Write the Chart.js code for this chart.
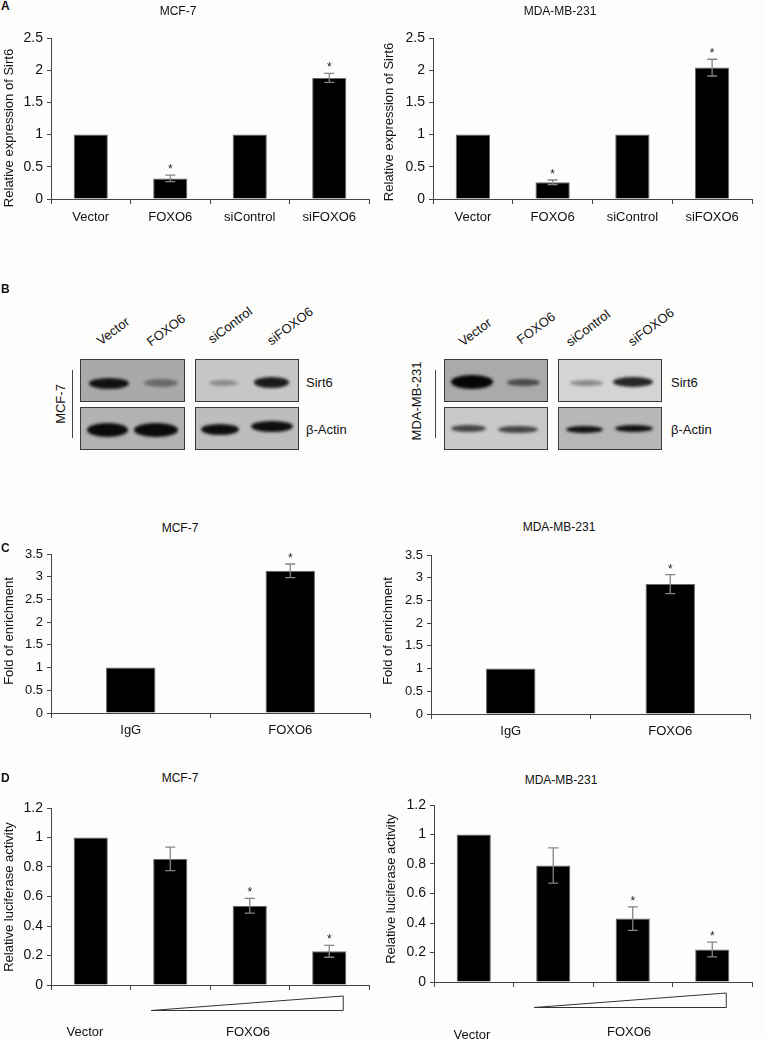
<!DOCTYPE html>
<html><head><meta charset="utf-8">
<script src="https://cdn.jsdelivr.net/npm/chart.js@4.4.0/dist/chart.umd.min.js"></script>
<style>
html,body{margin:0;padding:0;background:#fdfdfc;}
body{width:764px;height:1039px;position:relative;overflow:hidden;font-family:"Liberation Sans",Arial,sans-serif;color:#111;}
canvas{position:absolute;}
.t{position:absolute;transform:translate(-50%,-50%);white-space:nowrap;font-size:12px;}
.yt{position:absolute;transform:translate(-50%,-50%) rotate(-90deg);white-space:nowrap;font-size:13px;}
.lt{position:absolute;font-weight:bold;font-size:12px;}
.rl{position:absolute;transform:translate(-50%,-50%) rotate(-37deg);white-space:nowrap;font-size:13px;}
.box{position:absolute;border:1px solid #3a3a3a;box-sizing:border-box;overflow:hidden;}
.band{position:absolute;border-radius:50%;filter:blur(1.4px);}
.vl{position:absolute;width:1px;background:#444;}
.lab{position:absolute;transform:translate(0,-50%);white-space:nowrap;font-size:13px;}
</style></head>
<body>
<script>
// ---------- DATA ----------
const catsA = ['Vector', 'FOXO6', 'siControl', 'siFOXO6'];
const sirt6MCF7 = [1, 0.32, 1, 1.88];
const sirt6MCF7Err = [0, 0.05, 0, 0.07];
const sirt6MCF7Sig = [false, true, false, true];
const sirt6MDA = [1, 0.26, 1, 2.04];
const sirt6MDAErr = [0, 0.035, 0, 0.13];
const sirt6MDASig = [false, true, false, true];

const catsC = ['IgG', 'FOXO6'];
const chipMCF7 = [1, 3.13];
const chipMCF7Err = [0, 0.15];
const chipMCF7Sig = [false, true];
const chipMDA = [1, 2.86];
const chipMDAErr = [0, 0.21];
const chipMDASig = [false, true];

const catsD = ['Vector', 'FOXO6 (low)', 'FOXO6 (mid)', 'FOXO6 (high)'];
const lucMCF7 = [1, 0.855, 0.537, 0.228];
const lucMCF7Err = [0, 0.08, 0.05, 0.04];
const lucMCF7Sig = [false, false, true, true];
const lucMDA = [1, 0.79, 0.43, 0.22];
const lucMDAErr = [0, 0.12, 0.08, 0.05];
const lucMDASig = [false, false, true, true];

const ticksA = [0, 0.5, 1, 1.5, 2, 2.5];
const ticksC = [0, 0.5, 1, 1.5, 2, 2.5, 3, 3.5];
const ticksD = [0, 0.2, 0.4, 0.6, 0.8, 1, 1.2];

const blotLanes = ['Vector', 'FOXO6', 'siControl', 'siFOXO6'];
// ---------- END DATA ----------

function el(cls, txt, style) {
  const d = document.createElement('div');
  d.className = cls;
  if (txt !== null) d.textContent = txt;
  Object.assign(d.style, style);
  document.body.appendChild(d);
  return d;
}

const errPlugin = {
  id: 'errbars',
  afterDatasetsDraw(chart, args, opts) {
    const ctx = chart.ctx;
    const ys = chart.scales.y;
    const meta = chart.getDatasetMeta(0);
    const vals = chart.data.datasets[0].data;
    ctx.save();
    meta.data.forEach((bar, i) => {
      const v = vals[i], e = opts.err[i];
      let topY = ys.getPixelForValue(v);
      if (e > 0) {
        const y1 = ys.getPixelForValue(v + e), y2 = ys.getPixelForValue(v - e);
        ctx.strokeStyle = '#858585';
        ctx.lineWidth = 1.3;
        ctx.beginPath();
        ctx.moveTo(bar.x, y1); ctx.lineTo(bar.x, y2);
        ctx.moveTo(bar.x - 5, y1); ctx.lineTo(bar.x + 5, y1);
        ctx.moveTo(bar.x - 5, y2); ctx.lineTo(bar.x + 5, y2);
        ctx.stroke();
        topY = y1;
      }
      if (opts.sig[i]) {
        ctx.fillStyle = '#222';
        ctx.font = '12px "Liberation Sans", Arial, sans-serif';
        ctx.textAlign = 'center';
        ctx.textBaseline = 'alphabetic';
        ctx.fillText('*', bar.x, topY - 2);
      }
    });
    ctx.restore();
  }
};

const triPlugin = {
  id: 'tri',
  afterDraw(chart, args, opts) {
    if (!opts.on) return;
    const xs = chart.scales.x;
    const cw = xs.getPixelForValue(1) - xs.getPixelForValue(0);
    const x1 = xs.getPixelForValue(1) - 0.24 * cw;
    const x2 = xs.getPixelForValue(3) + 0.17 * cw;
    const base = chart.chartArea.bottom;
    const ctx = chart.ctx;
    ctx.save();
    ctx.strokeStyle = '#333';
    ctx.lineWidth = 1;
    ctx.beginPath();
    ctx.moveTo(x1, base + 25.5);
    ctx.lineTo(x2 + 0.5, base + 11);
    ctx.lineTo(x2 + 0.5, base + 25.5);
    ctx.closePath();
    ctx.stroke();
    ctx.restore();
  }
};

function makeChart(g) {
  const c = document.createElement('canvas');
  c.width = g.cw; c.height = g.ch;
  c.style.left = g.cx + 'px'; c.style.top = g.cy + 'px';
  c.style.width = g.cw + 'px'; c.style.height = g.ch + 'px';
  document.body.appendChild(c);
  const yW = g.L - g.cx;
  const xH = g.cy + g.ch - g.B;
  new Chart(c.getContext('2d'), {
    type: 'bar',
    data: {
      labels: g.labels,
      datasets: [{
        data: g.values,
        backgroundColor: '#000',
        borderColor: '#6a6a6a',
        borderWidth: 1,
        barPercentage: g.barPct,
        categoryPercentage: 1
      }]
    },
    options: {
      responsive: false,
      animation: false,
      devicePixelRatio: 1,
      layout: { padding: { left: 0, top: g.T - g.cy, right: g.cx + g.cw - g.R, bottom: 0 } },
      plugins: {
        legend: { display: false },
        tooltip: { enabled: false },
        errbars: { err: g.err, sig: g.sig },
        tri: { on: !!g.tri }
      },
      scales: {
        x: {
          grid: { drawOnChartArea: false, drawTicks: true, tickLength: 5, color: '#444', offset: true },
          border: { color: '#444', width: 1 },
          ticks: {
            display: g.showX,
            color: '#111',
            padding: g.xPad,
            maxRotation: 0,
            autoSkip: false,
            font: { family: '"Liberation Sans", Arial, sans-serif', size: 13 }
          },
          afterFit(s) { s.height = xH; }
        },
        y: {
          min: g.ticks[0],
          max: g.ticks[g.ticks.length - 1],
          afterBuildTicks(s) { s.ticks = g.ticks.map(v => ({ value: v })); },
          grid: { drawOnChartArea: false, drawTicks: true, tickLength: 4, color: '#444' },
          border: { color: '#444', width: 1 },
          ticks: {
            color: '#111',
            padding: 4,
            font: { family: '"Liberation Sans", Arial, sans-serif', size: g.yFont },
            callback: v => String(Number(v.toFixed(1)))
          },
          afterFit(s) { s.width = yW; }
        }
      }
    },
    plugins: [errPlugin, triPlugin]
  });
}

// Panel A
makeChart({cx: 0, cy: 15, cw: 382, ch: 225, L: 51, R: 369, T: 38, B: 199,
  labels: catsA, values: sirt6MCF7, err: sirt6MCF7Err, sig: sirt6MCF7Sig,
  ticks: ticksA, barPct: 0.43, showX: true, xPad: 6, yFont: 14});
makeChart({cx: 382, cy: 15, cw: 382, ch: 225, L: 433, R: 752, T: 38, B: 199,
  labels: catsA, values: sirt6MDA, err: sirt6MDAErr, sig: sirt6MDASig,
  ticks: ticksA, barPct: 0.43, showX: true, xPad: 6, yFont: 14});
// Panel C
makeChart({cx: 0, cy: 535, cw: 382, ch: 215, L: 51, R: 370, T: 554, B: 713,
  labels: catsC, values: chipMCF7, err: chipMCF7Err, sig: chipMCF7Sig,
  ticks: ticksC, barPct: 0.31, showX: true, xPad: 5, yFont: 13});
makeChart({cx: 382, cy: 535, cw: 382, ch: 215, L: 431, R: 750, T: 555, B: 714,
  labels: catsC, values: chipMDA, err: chipMDAErr, sig: chipMDASig,
  ticks: ticksC, barPct: 0.31, showX: true, xPad: 5, yFont: 13});
// Panel D
makeChart({cx: 0, cy: 790, cw: 382, ch: 235, L: 51, R: 369, T: 808, B: 985,
  labels: catsD, values: lucMCF7, err: lucMCF7Err, sig: lucMCF7Sig,
  ticks: ticksD, barPct: 0.43, showX: false, xPad: 5, yFont: 14, tri: true});
makeChart({cx: 382, cy: 787, cw: 382, ch: 235, L: 434, R: 752, T: 805, B: 982,
  labels: catsD, values: lucMDA, err: lucMDAErr, sig: lucMDASig,
  ticks: ticksD, barPct: 0.43, showX: false, xPad: 5, yFont: 14, tri: true});

// Titles and letters
el('lt', 'A', {left: '1px', top: '-1px'});
el('lt', 'B', {left: '1px', top: '282px'});
el('lt', 'C', {left: '1px', top: '541px'});
el('lt', 'D', {left: '1px', top: '771px'});
el('t', 'MCF-7', {left: '178px', top: '11px'});
el('t', 'MDA-MB-231', {left: '560px', top: '11px'});
el('t', 'MCF-7', {left: '180px', top: '528px'});
el('t', 'MDA-MB-231', {left: '559px', top: '527px'});
el('t', 'MCF-7', {left: '180px', top: '778px'});
el('t', 'MDA-MB-231', {left: '561px', top: '780px'});
// Y titles
el('yt', 'Relative expression of Sirt6', {left: '8px', top: '128px'});
el('yt', 'Relative expression of Sirt6', {left: '388px', top: '122px'});
el('yt', 'Fold of enrichment', {left: '8px', top: '631px'});
el('yt', 'Fold of enrichment', {left: '387px', top: '631px'});
el('yt', 'Relative luciferase activity', {left: '8px', top: '897px'});
el('yt', 'Relative luciferase activity', {left: '390px', top: '889px'});
// D x labels
el('t', 'Vector', {left: '85px', top: '1031px', fontSize: '13px'});
el('t', 'FOXO6', {left: '248px', top: '1031px', fontSize: '13px'});
el('t', 'Vector', {left: '472px', top: '1034px', fontSize: '13px'});
el('t', 'FOXO6', {left: '629px', top: '1031px', fontSize: '13px'});

// ---------- Panel B western blots ----------
function blot(o) {
  o.labelPos.forEach((p, i) => el('rl', blotLanes[i], {left: p[0] + 'px', top: p[1] + 'px'}));
  o.boxes.forEach(b => {
    const d = el('box', null, {left: b[0] + 'px', top: b[1] + 'px', width: b[2] + 'px', height: b[3] + 'px', background: b[4]});
    b[5].forEach(bd => {
      const s = document.createElement('div');
      s.className = 'band';
      Object.assign(s.style, {left: (bd[0] - b[0]) + 'px', width: (bd[1] - bd[0]) + 'px',
        top: (bd[2] - bd[3] / 2 - b[1]) + 'px', height: bd[3] + 'px', background: bd[4]});
      d.appendChild(s);
    });
  });
  el('lab', 'Sirt6', {left: o.sx + 'px', top: '382px'});
  el('lab', '\u03b2-Actin', {left: o.sx + 'px', top: '429px'});
  el('vl', null, {left: o.lx + 'px', top: '370px', height: '68px'});
  el('yt', o.cell, {left: o.cx + 'px', top: o.cy + 'px'});
}
blot({
  cell: 'MCF-7', cx: 60, cy: 404, lx: 72, sx: 306,
  labelPos: [[113, 331], [166, 330], [230, 325], [290, 326]],
  boxes: [
    [80, 359, 105, 43, '#a9a9a9', [[88, 128, 382, 11, '#111'], [143, 177, 382, 8, '#6a6a6a']]],
    [195, 359, 104, 43, '#c6c6c6', [[208, 237, 382, 6, '#8a8a8a'], [253, 288, 381, 11, '#1a1a1a']]],
    [80, 407, 105, 43, '#b2b2b2', [[86, 127, 429, 14, '#0a0a0a'], [133, 177, 429, 14, '#0a0a0a']]],
    [195, 407, 104, 43, '#bdbdbd', [[200, 238, 428, 11, '#0d0d0d'], [250, 292, 425, 11, '#0d0d0d']]]
  ]
});
blot({
  cell: 'MDA-MB-231', cx: 416, cy: 401, lx: 435, sx: 671,
  labelPos: [[475, 332], [536, 328], [588, 328], [651, 327]],
  boxes: [
    [444, 359, 104, 43, '#aaaaaa', [[450, 492, 381, 14, '#050505'], [506, 539, 381, 7, '#4a4a4a']]],
    [558, 359, 104, 43, '#d4d4d4', [[569, 602, 382, 6, '#8a8a8a'], [612, 652, 381, 10, '#262626']]],
    [444, 407, 104, 43, '#c9c9c9', [[450, 485, 427, 7, '#444'], [497, 537, 428, 7, '#444']]],
    [558, 407, 104, 43, '#b7b7b7', [[565, 602, 428, 7, '#111'], [614, 652, 427, 7, '#111']]]
  ]
});
</script>
</body></html>
